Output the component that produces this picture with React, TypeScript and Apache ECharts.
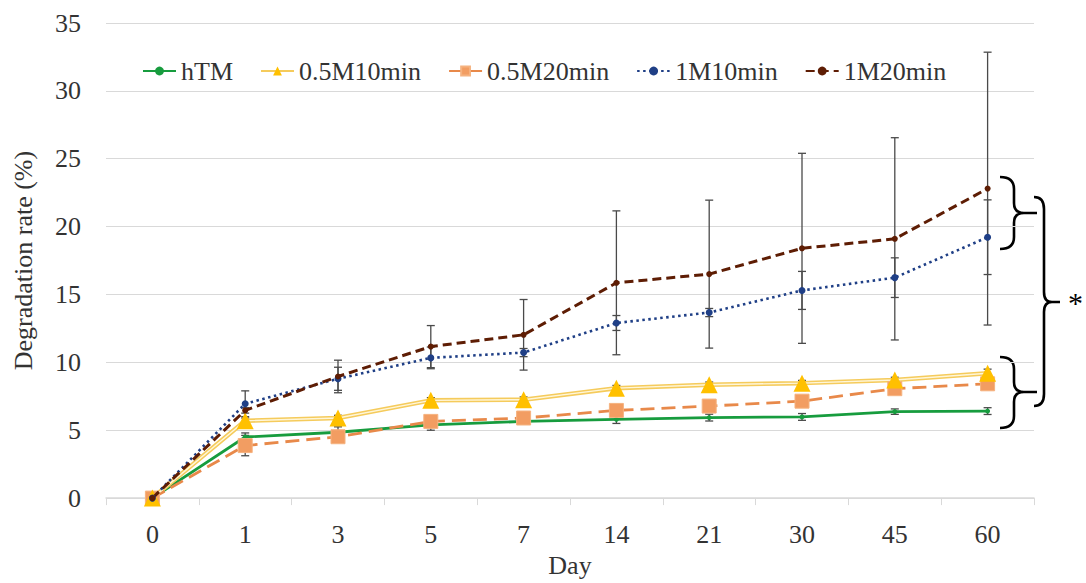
import React, { useEffect, useRef } from "react";
import * as echarts from "echarts";

const days = ["0", "1", "3", "5", "7", "14", "21", "30", "45", "60"];
const yTicks = [0, 5, 10, 15, 20, 25, 30, 35];

const hTM = [0, 4.5, 4.85, 5.4, 5.65, 5.8, 5.93, 5.98, 6.37, 6.41];
const hTMErr = [0, 0.3, 0.4, 0.4, 0.2, 0.3, 0.25, 0.25, 0.2, 0.25];
const m05_10 = [0, 5.7, 5.9, 7.2, 7.25, 8.1, 8.35, 8.47, 8.7, 9.2];
const m05_10Err = [0, 0.2, 0.2, 0.2, 0.2, 0.2, 0.2, 0.2, 0.2, 0.3];
const m05_20 = [0, 3.87, 4.52, 5.65, 5.9, 6.46, 6.78, 7.14, 8.06, 8.42];
const m05_20Err = [0, 0.75, 0.4, 0.3, 0.2, 0.3, 0.3, 0.3, 0.3, 0.3];
const m1_10 = [0, 6.95, 8.79, 10.33, 10.72, 12.9, 13.67, 15.3, 16.24, 19.22];
const m1_10Err = [0, 0.95, 0.85, 0.8, 0.3, 0.55, 0.3, 1.4, 1.46, 2.75];
const m1_20 = [0, 6.46, 8.96, 11.16, 12.03, 15.86, 16.5, 18.4, 19.1, 22.8];
const m1_20Err = [0, 0.2, 1.2, 1.55, 2.6, 5.3, 5.45, 7.0, 7.45, 10.05];

const FONT = "Liberation Serif";

function errData(vals: number[], errs: number[]) {
  return vals.map((v, i) => [i, v - errs[i], v + errs[i]]);
}

const braces = [
  "M1000 177 Q1014 177 1014 189 L1014 203 Q1014 213 1024 213 L1037 213 M1024 213 Q1014 213 1014 223 L1014 237 Q1014 249 1000 249",
  "M1000 357 Q1014 357 1014 369 L1014 382 Q1014 392 1024 392 L1037 392 M1024 392 Q1014 392 1014 402 L1014 416 Q1014 428 1000 428",
  "M1034 197 Q1044 197 1044 209 L1044 292 Q1044 302 1052 302 L1060 302 M1052 302 Q1044 302 1044 312 L1044 394 Q1044 406 1034 406",
];

export default function App() {
  const ref = useRef<HTMLDivElement>(null);
  useEffect(() => {
    if (!ref.current) return;
    braces.forEach((d, i) => {
      echarts.graphic.registerShape("brace" + i, echarts.graphic.extendPath(d, {}) as any);
    });
    const chart = echarts.init(ref.current, null, { renderer: "svg" });
    const errSeries = {
      type: "custom",
      silent: true,
      z: 1,
      renderItem: (params: any, api: any) => {
        const x = api.value(0);
        const lo = api.coord([x, api.value(1)]);
        const hi = api.coord([x, api.value(2)]);
        const w = 4;
        const st = { stroke: "#4a4a4a", lineWidth: 1.3 };
        return {
          type: "group",
          children: [
            { type: "line", shape: { x1: hi[0], y1: hi[1], x2: lo[0], y2: lo[1] }, style: st },
            { type: "line", shape: { x1: hi[0] - w, y1: hi[1], x2: hi[0] + w, y2: hi[1] }, style: st },
            { type: "line", shape: { x1: lo[0] - w, y1: lo[1], x2: lo[0] + w, y2: lo[1] }, style: st },
          ],
        };
      },
    };
    const option: any = {
      animation: false,
      backgroundColor: "#ffffff",
      grid: { left: 106, right: 52, top: 23, bottom: 78 },
      legend: {
        data: ["hTM", "0.5M10min", "0.5M20min", "1M10min", "1M20min"],
        left: 137,
        top: 53,
        itemWidth: 33,
        itemHeight: 11,
        itemGap: 27,
        textStyle: { fontFamily: FONT, fontSize: 26, color: "#333" },
      },
      xAxis: {
        type: "category",
        data: days,
        boundaryGap: true,
        name: "Day",
        nameLocation: "middle",
        nameGap: 47,
        nameTextStyle: { fontFamily: FONT, fontSize: 26, color: "#333" },
        axisLine: { lineStyle: { color: "#D9D9D9", width: 1.5 } },
        axisTick: { show: true, length: 7, lineStyle: { color: "#D9D9D9" } },
        axisLabel: { fontFamily: FONT, fontSize: 26, color: "#333", margin: 23 },
      },
      yAxis: {
        type: "value",
        min: yTicks[0],
        max: yTicks[yTicks.length - 1],
        interval: 5,
        name: "Degradation rate (%)",
        nameLocation: "middle",
        nameGap: 70,
        nameTextStyle: { fontFamily: FONT, fontSize: 26, color: "#333" },
        axisLine: { show: false },
        axisTick: { show: false },
        splitLine: { lineStyle: { color: "#D9D9D9", width: 1.2 } },
        axisLabel: { fontFamily: FONT, fontSize: 26, color: "#333", margin: 25 },
      },
      series: [
        { ...errSeries, data: errData(hTM, hTMErr) },
        { ...errSeries, data: errData(m05_10, m05_10Err) },
        { ...errSeries, data: errData(m05_20, m05_20Err) },
        { ...errSeries, data: errData(m1_10, m1_10Err) },
        { ...errSeries, data: errData(m1_20, m1_20Err) },
        {
          name: "hTM",
          type: "line",
          data: hTM,
          z: 3,
          symbol: "circle",
          symbolSize: 5,
          itemStyle: { color: "#179C3E" },
          lineStyle: { color: "#179C3E", width: 2.8 },
        },
        {
          name: "0.5M10min",
          type: "line",
          data: m05_10,
          z: 3,
          symbol: "triangle",
          symbolSize: 0,
          itemStyle: { color: "#FFC000" },
          lineStyle: { color: "#F5CB5C", width: 4.5 },
        },
        {
          name: "m05_10_inner",
          type: "line",
          data: m05_10,
          z: 4,
          silent: true,
          symbol: "none",
          lineStyle: { color: "#FFF6D8", width: 1.4 },
        },
        {
          name: "m05_10_marks",
          type: "line",
          data: m05_10,
          z: 5,
          silent: true,
          symbol: "triangle",
          symbolSize: 17,
          itemStyle: { color: "#FFC000" },
          lineStyle: { width: 0, opacity: 0 },
        },
        {
          name: "0.5M20min",
          type: "line",
          data: m05_20,
          z: 3,
          symbol: "rect",
          symbolSize: 14,
          itemStyle: { color: "#F29D62", borderColor: "#F5B27F", borderWidth: 1 },
          lineStyle: { color: "#E8894A", width: 2.8, type: [14, 7] },
        },
        {
          name: "1M10min",
          type: "line",
          data: m1_10,
          z: 6,
          symbol: "circle",
          symbolSize: 7,
          itemStyle: { color: "#1F3F86" },
          lineStyle: { color: "#1F3F86", width: 2.6, type: [2.5, 3.5] },
        },
        {
          name: "1M20min",
          type: "line",
          data: m1_20,
          z: 6,
          symbol: "circle",
          symbolSize: 6,
          itemStyle: { color: "#5E1D04" },
          lineStyle: { color: "#5E1D04", width: 3, type: [9, 5] },
        },
      ],
      graphic: [
        ...braces.map((_, i) => ({
          type: "brace" + i,
          x: 0,
          y: 0,
          style: { stroke: "#000", lineWidth: 2.6, fill: null },
        })),
        {
          type: "text",
          x: 1068,
          y: 287,
          style: { text: "*", fontFamily: FONT, fontSize: 30, fill: "#000" },
        },
      ],
    };
    chart.setOption(option);
    return () => chart.dispose();
  }, []);
  return (
    <div
      ref={ref}
      style={{ position: "absolute", left: 0, top: 0, width: 1086, height: 583, overflow: "hidden" }}
    />
  );
}
